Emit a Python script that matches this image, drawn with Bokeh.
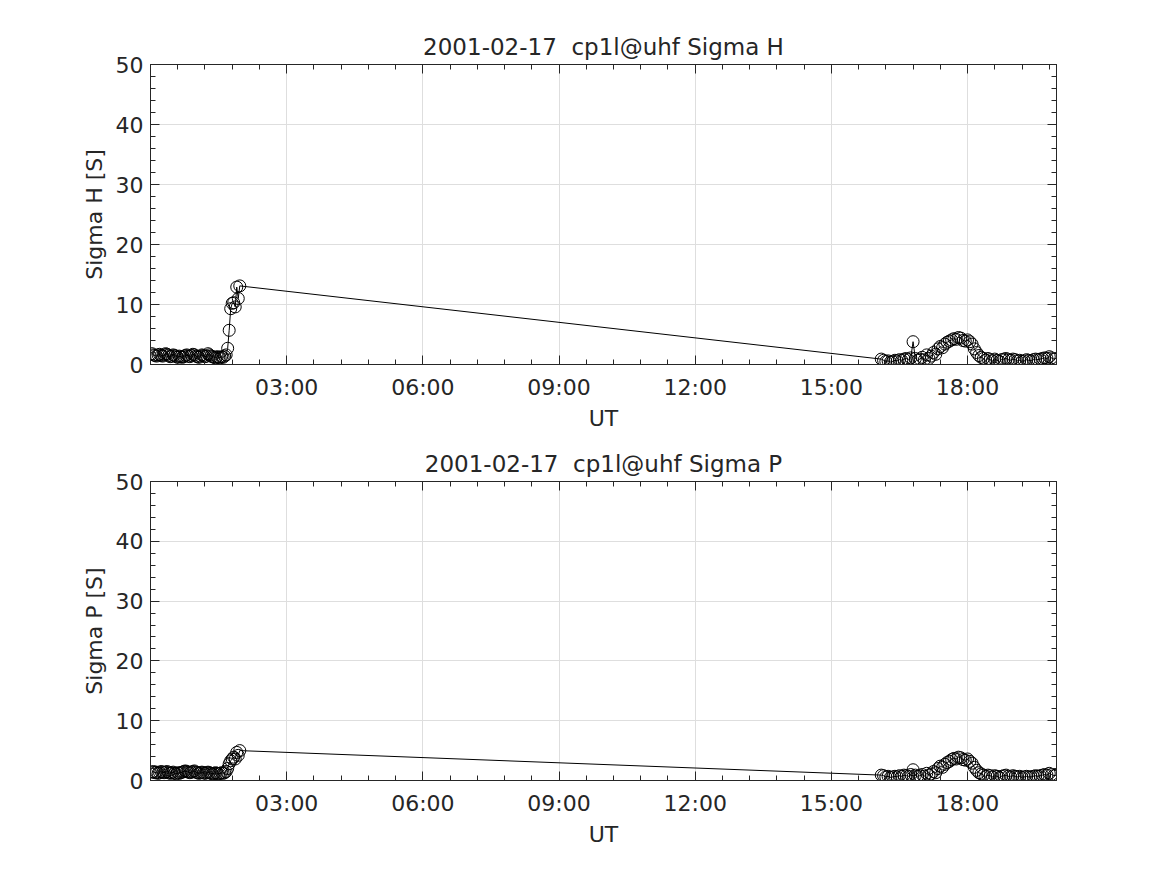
import numpy as np
from bokeh.plotting import figure
from bokeh.models import Range1d, FixedTicker, LinearAxis
from bokeh.layouts import column
from bokeh.embed import file_html
from bokeh.resources import INLINE

# ---------------- data ----------------
date_str = "2001-02-17"
site = "cp1l@uhf"

# sample times (minutes of day) for the two measurement intervals
seg1_minutes = np.arange(2, 119, 2)        # 00:02 .. 01:58
seg2_minutes = np.arange(966, 1198, 3)     # 16:06 .. 19:57

sigma_h_seg1 = [
    1.8, 1.6, 1.5, 1.4, 1.6, 1.7, 1.5, 1.4, 1.6, 1.8,
    1.7, 1.5, 1.3, 1.4, 1.6, 1.5, 1.3, 1.2, 1.4, 1.3,
    1.2, 1.3, 1.5, 1.6, 1.4, 1.3, 1.5, 1.7, 1.6, 1.4,
    1.3, 1.2, 1.4, 1.6, 1.5, 1.3, 1.4, 1.8, 1.6, 1.4,
    1.3, 1.2, 1.1, 1.3, 1.2, 1.1, 1.3, 1.2, 1.4, 1.6,
    2.7, 5.7, 9.3, 10.2, 10.3, 9.6, 12.9, 11.0, 13.1,
]
sigma_h_seg2 = [
    0.9, 0.7, 0.5, 0.6, 0.4, 0.5, 0.7, 0.6, 0.8, 0.7,
    0.9, 1.0, 0.8, 1.1, 3.8, 1.0, 0.7, 0.9,
    1.2, 0.8, 1.6, 1.0, 1.4, 2.0, 1.7, 2.6, 3.0, 2.8,
    3.4, 3.7, 3.9, 4.1, 4.3, 4.2, 4.5, 4.4, 4.0, 3.9,
    4.1, 3.8, 3.4, 2.6, 2.0, 1.5, 1.2, 1.0, 0.7, 1.0,
    0.8, 0.6, 0.9, 0.7, 0.5, 0.8, 0.9, 1.0, 0.8, 0.7,
    0.9, 0.8, 0.6, 0.7, 0.5, 0.6, 0.8, 0.7, 0.6, 0.8,
    0.9, 0.8, 0.9, 1.0, 1.1, 1.0, 1.3, 1.1, 0.9, 1.0,
]
sigma_p_seg1 = [
    1.4, 1.5, 1.3, 1.4, 1.2, 1.3, 1.5, 1.4, 1.3, 1.4,
    1.5, 1.3, 1.2, 1.3, 1.4, 1.2, 1.1, 1.3, 1.2, 1.3,
    1.4, 1.5, 1.6, 1.5, 1.4, 1.3, 1.4, 1.5, 1.6, 1.4,
    1.3, 1.2, 1.3, 1.4, 1.3, 1.2, 1.3, 1.4, 1.3, 1.2,
    1.1, 1.2, 1.3, 1.2, 1.1, 1.2, 1.3, 1.2, 1.3, 1.5,
    2.0, 2.8, 3.3, 3.6, 3.9, 3.6, 4.7, 4.2, 5.0,
]
sigma_p_seg2 = [
    0.9, 0.8, 0.6, 0.7, 0.5, 0.6, 0.7, 0.6, 0.8, 0.7,
    0.9, 0.8, 0.7, 1.0, 1.8, 0.9, 0.7, 0.8,
    1.0, 0.7, 1.2, 0.9, 1.1, 1.5, 1.3, 2.0, 2.4, 2.2,
    2.7, 3.0, 3.2, 3.5, 3.7, 3.6, 3.9, 3.8, 3.5, 3.4,
    3.6, 3.2, 2.9, 2.2, 1.7, 1.3, 1.1, 0.9, 0.7, 0.9,
    0.8, 0.6, 0.8, 0.7, 0.5, 0.7, 0.8, 0.9, 0.7, 0.6,
    0.8, 0.7, 0.6, 0.7, 0.5, 0.6, 0.7, 0.6, 0.6, 0.7,
    0.8, 0.7, 0.8, 0.9, 1.0, 0.9, 1.2, 1.0, 0.8, 0.9,
]

x_tick_hours = [3, 6, 9, 12, 15, 18]
x_tick_labels = ["03:00", "06:00", "09:00", "12:00", "15:00", "18:00"]
y_ticks = [0, 10, 20, 30, 40, 50]

# ---------------- derived ----------------
t_hours = np.concatenate([seg1_minutes, seg2_minutes]) / 60.0
sigma_h = np.array(sigma_h_seg1 + sigma_h_seg2)
sigma_p = np.array(sigma_p_seg1 + sigma_p_seg2)

TXT = "#262626"
FONT = "DejaVu Sans"
FS = "22px"
GRID = "#dedede"

x_minor = [round(v, 2) for v in np.arange(0, 20.0, 0.6) if all(abs(v - m) > 1e-6 for m in x_tick_hours)]
y_minor = [v for v in range(0, 51, 2) if v % 10 != 0]


def style_axis(ax, show_labels):
    ax.axis_line_color = TXT
    ax.axis_line_width = 1
    ax.major_tick_line_color = TXT
    ax.minor_tick_line_color = TXT
    ax.major_tick_in = 9
    ax.major_tick_out = 0
    ax.minor_tick_in = 5
    ax.minor_tick_out = 0
    ax.major_label_text_font = FONT
    if show_labels:
        ax.major_label_text_color = TXT
        ax.major_label_text_font_size = FS
    else:
        ax.major_label_text_color = None
        ax.major_label_text_alpha = 0
        ax.major_label_text_font_size = "1px"
        ax.major_label_standoff = 0
    ax.axis_label_text_font = FONT
    ax.axis_label_text_font_size = FS
    ax.axis_label_text_font_style = "normal"
    ax.axis_label_text_color = TXT


def make_panel(title, ylabel, y, top_b, bottom_b, frame_h):
    xt = FixedTicker(ticks=x_tick_hours, minor_ticks=x_minor)
    yt = FixedTicker(ticks=y_ticks, minor_ticks=y_minor)
    p = figure(frame_width=906, frame_height=frame_h,
               x_range=Range1d(0, 19.96), y_range=Range1d(0, 50),
               output_backend="svg", toolbar_location=None,
               min_border_left=150, min_border_right=87,
               min_border_top=top_b, min_border_bottom=bottom_b,
               background_fill_color="white", border_fill_color="white")
    p.outline_line_color = TXT
    p.title.text = title
    p.title.align = "center"
    p.title.text_font = FONT
    p.title.text_font_size = "23px"
    p.title.text_font_style = "normal"
    p.title.text_color = TXT
    p.title.standoff = 10

    xa = p.xaxis[0]
    xa.ticker = xt
    xa.major_label_overrides = {h: l for h, l in zip(x_tick_hours, x_tick_labels)}
    xa.axis_label = "UT"
    xa.major_label_standoff = 10
    xa.axis_label_standoff = 3
    style_axis(xa, True)

    ya = p.yaxis[0]
    ya.ticker = yt
    ya.axis_label = ylabel
    ya.major_label_standoff = 7
    ya.axis_label_standoff = 6
    style_axis(ya, True)

    top = LinearAxis(ticker=xt)
    style_axis(top, False)
    p.add_layout(top, "above")
    right = LinearAxis(ticker=yt)
    style_axis(right, False)
    p.add_layout(right, "right")

    p.xgrid.ticker = xt
    p.ygrid.ticker = yt
    p.xgrid.grid_line_color = GRID
    p.ygrid.grid_line_color = GRID

    p.line(t_hours, y, line_color="black", line_width=1)
    p.scatter(t_hours, y, marker="circle", size=12, fill_color=None,
              line_color="black", line_width=1)
    return p


p1 = make_panel(f"{date_str} \u00a0{site} Sigma H", "Sigma H [S]", sigma_h, 64, 70, 300)
p2 = make_panel(f"{date_str} \u00a0{site} Sigma P", "Sigma P [S]", sigma_p, 47, 70, 299)

layout = column(p1, p2, spacing=0)
open("out.html", "w").write(file_html(layout, INLINE))
